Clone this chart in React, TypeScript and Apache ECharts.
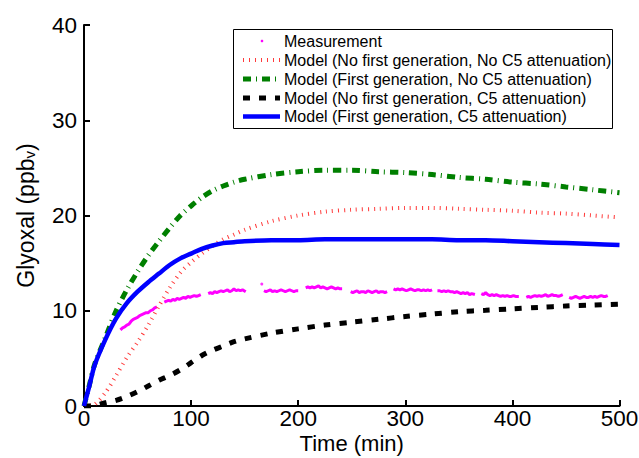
import React, { useEffect, useRef } from "react";
import * as echarts from "echarts";

const FONT = "'Liberation Sans', Arial, Helvetica, sans-serif";

const modelTime = [0, 5, 10, 20, 30, 40, 50, 60, 70, 80, 90, 100, 110, 120, 130, 140, 150, 175, 200, 225, 250, 275, 300, 325, 350, 375, 400, 425, 450, 475, 500];
const noFirstNoC5 = [0, 0.05, 0.15, 1.4, 3.2, 5.1, 6.7, 8.5, 10.5, 12.4, 14.0, 15.1, 16.0, 16.8, 17.5, 18.0, 18.5, 19.4, 20.0, 20.4, 20.6, 20.7, 20.8, 20.8, 20.7, 20.6, 20.5, 20.3, 20.2, 20.0, 19.8];
const firstNoC5 = [0, 2.2, 4.4, 7.2, 10.0, 12.2, 14.1, 15.8, 17.3, 18.7, 20.0, 21.0, 21.9, 22.6, 23.1, 23.5, 23.8, 24.3, 24.6, 24.75, 24.75, 24.6, 24.5, 24.3, 24.0, 23.8, 23.5, 23.3, 23.0, 22.7, 22.4];
const noFirstC5 = [0, 0, 0.05, 0.35, 0.6, 1.0, 1.5, 2.1, 2.7, 3.2, 3.8, 4.55, 5.3, 5.85, 6.3, 6.75, 7.05, 7.65, 8.1, 8.5, 8.8, 9.1, 9.4, 9.65, 9.9, 10.05, 10.2, 10.35, 10.5, 10.6, 10.7];
const firstC5 = [0, 2.1, 4.3, 7.0, 9.2, 10.8, 12.0, 13.0, 13.9, 14.8, 15.5, 16.0, 16.5, 16.85, 17.1, 17.2, 17.3, 17.4, 17.4, 17.5, 17.5, 17.5, 17.5, 17.5, 17.4, 17.4, 17.3, 17.2, 17.1, 17.0, 16.9];

const measSeg1 = [[34, 8.0], [36, 8.2], [38, 8.3], [40, 8.5], [42, 8.6], [44, 8.9], [46, 9.1], [48, 9.2], [50, 9.3], [52, 9.5], [54, 9.6], [56, 9.7], [58, 9.8], [60, 9.8], [62, 10.0], [64, 10.1], [66, 10.3], [68, 10.4]];
const measSeg2 = [[75, 10.9], [77, 11.0], [79, 11.1], [81, 11.0], [83, 11.2], [85, 11.1], [87, 11.3], [89, 11.2], [91, 11.3], [93, 11.4], [95, 11.3], [97, 11.5], [99, 11.4], [101, 11.5], [103, 11.6], [105, 11.5], [107, 11.6], [109, 11.7]];
const measSeg3 = [[116, 11.8], [118, 11.9], [120, 11.8], [122, 12.0], [124, 11.9], [126, 12.0], [128, 12.1], [130, 12.0], [132, 12.1], [134, 12.2], [136, 12.0], [138, 12.1], [140, 12.3], [142, 12.1], [144, 12.2], [146, 12.1], [148, 12.2], [151, 12.0]];
const measSeg4 = [[168, 12.1], [170, 12.0], [172, 12.1], [174, 12.2], [176, 12.0], [178, 12.1], [180, 12.0], [182, 12.1], [184, 12.2], [186, 12.1], [188, 12.0], [190, 12.1], [192, 12.2], [194, 12.1], [196, 12.0], [198, 12.1], [200, 12.1]];
const measSeg5 = [[207, 12.4], [209, 12.5], [211, 12.4], [213, 12.5], [215, 12.4], [217, 12.5], [219, 12.6], [221, 12.4], [223, 12.5], [225, 12.4], [227, 12.3], [229, 12.4], [231, 12.5], [233, 12.4], [235, 12.3], [237, 12.4], [239, 12.3], [241, 12.3]];
const measSeg6 = [[249, 12.0], [251, 11.9], [253, 12.0], [255, 12.1], [257, 11.9], [259, 12.0], [261, 12.0], [263, 11.9], [265, 12.1], [267, 12.0], [269, 11.9], [271, 12.0], [273, 12.1], [275, 11.9], [277, 12.0], [279, 12.0], [281, 11.9], [283, 12.0]];
const measSeg7 = [[289, 12.3], [291, 12.2], [293, 12.3], [295, 12.2], [297, 12.3], [299, 12.2], [301, 12.1], [303, 12.2], [305, 12.3], [307, 12.2], [309, 12.1], [311, 12.2], [313, 12.2], [315, 12.1], [317, 12.2], [319, 12.1], [321, 12.2], [323, 12.1], [325, 12.2]];
const measSeg8 = [[330, 12.1], [332, 12.1], [334, 12.0], [336, 12.1], [338, 12.0], [340, 12.1], [342, 12.0], [344, 12.0], [346, 11.9], [348, 12.0], [350, 11.9], [352, 11.8], [354, 11.9], [356, 11.8], [358, 11.9], [360, 11.7], [362, 11.8], [365, 11.7]];
const measSeg9 = [[371, 11.8], [373, 11.7], [375, 11.9], [377, 11.7], [379, 11.6], [381, 11.7], [383, 11.6], [385, 11.7], [387, 11.6], [389, 11.5], [391, 11.6], [393, 11.5], [395, 11.6], [397, 11.5], [399, 11.5], [401, 11.6], [403, 11.5], [406, 11.5]];
const measSeg10 = [[413, 11.4], [415, 11.5], [417, 11.4], [419, 11.5], [421, 11.6], [423, 11.5], [425, 11.6], [427, 11.5], [429, 11.6], [431, 11.7], [433, 11.5], [435, 11.6], [437, 11.7], [439, 11.6], [441, 11.6], [443, 11.5], [445, 11.6], [447, 11.7]];
const measSeg11 = [[453, 11.4], [455, 11.3], [457, 11.4], [459, 11.5], [461, 11.4], [463, 11.3], [465, 11.4], [467, 11.5], [469, 11.4], [471, 11.4], [473, 11.5], [475, 11.4], [477, 11.5], [479, 11.4], [481, 11.5], [483, 11.6], [485, 11.5], [487, 11.5], [489, 11.6]];
const measIsolated = [[166, 12.8]];

const legendLabels = [
  "Measurement",
  "Model (No first generation, No C5 attenuation)",
  "Model (First generation, No C5 attenuation)",
  "Model (No first generation, C5 attenuation)",
  "Model (First generation, C5 attenuation)",
];

const xTicks = [0, 100, 200, 300, 400, 500];
const yTicks = [0, 10, 20, 30, 40];

const COLORS = {
  meas: "#ff00ff",
  red: "#ff3b3b",
  green: "#007f00",
  black: "#000000",
  blue: "#0000ff",
};

const STYLES = [
  { color: COLORS.red, width: 4, type: [1, 5] as number[] | string },
  { color: COLORS.green, width: 5, type: [8, 5, 1, 5] as number[] | string },
  { color: COLORS.black, width: 5, type: [7, 9] as number[] | string },
  { color: COLORS.blue, width: 4.5, type: "solid" as number[] | string },
];

function zip(xs: number[], ys: number[]) {
  return xs.map((x, i) => [x, ys[i]]);
}

export default function App() {
  const ref = useRef<HTMLDivElement>(null);
  useEffect(() => {
    if (!ref.current) return;
    const chart = echarts.init(ref.current, undefined, { renderer: "svg" });

    const segs = [measSeg1, measSeg2, measSeg3, measSeg4, measSeg5, measSeg6, measSeg7, measSeg8, measSeg9, measSeg10, measSeg11];
    const measData: any[] = [];
    segs.forEach((s, i) => {
      if (i > 0) measData.push([s[0][0] - 1, null]);
      s.forEach((p) => measData.push(p));
    });

    const modelSeries = [noFirstNoC5, firstNoC5, noFirstC5, firstC5].map((vals, i) => ({
      name: legendLabels[i + 1],
      type: "line",
      data: zip(modelTime, vals),
      showSymbol: false,
      smooth: 0.3,
      z: 3 + i,
      lineStyle: { color: STYLES[i].color, width: STYLES[i].width, type: STYLES[i].type, cap: "butt" },
    }));

    const legendX = 233;
    const legendY = 29;
    const rowY = [41, 60, 79, 98, 116.5];
    const legendEls: any[] = [
      {
        type: "rect",
        shape: { x: legendX + 0.5, y: legendY + 0.5, width: 379, height: 99 },
        style: { fill: "#fff", stroke: "#000", lineWidth: 1 },
        z: 100,
      },
      {
        type: "circle",
        shape: { cx: 262, cy: rowY[0], r: 1.3 },
        style: { fill: COLORS.meas },
        z: 101,
      },
    ];
    for (let i = 0; i < 4; i++) {
      const st = STYLES[i];
      legendEls.push({
        type: "line",
        shape: { x1: 243, y1: rowY[i + 1], x2: 280, y2: rowY[i + 1] },
        style: {
          stroke: st.color,
          lineWidth: st.width,
          lineDash: Array.isArray(st.type) ? st.type : null,
        },
        z: 101,
      });
    }
    legendLabels.forEach((t, i) => {
      legendEls.push({
        type: "text",
        x: 284,
        y: rowY[i],
        style: {
          text: t,
          fontSize: 16,
          fontFamily: FONT,
          fill: "#000",
          verticalAlign: "middle",
          align: "left",
        },
        z: 101,
      });
    });

    chart.setOption({
      animation: false,
      backgroundColor: "#fff",
      grid: { left: 84, right: 19.5, top: 25, bottom: 52, containLabel: false, outerBoundsMode: "none" },
      xAxis: {
        type: "value",
        min: xTicks[0],
        max: xTicks[xTicks.length - 1],
        interval: 100,
        name: "Time (min)",
        nameLocation: "middle",
        nameGap: 25,
        nameMoveOverlap: false,
        nameTextStyle: { fontSize: 22, fontFamily: FONT, color: "#000", lineHeight: 24 },
        axisLine: { show: true, onZero: false, lineStyle: { color: "#000", width: 2 } },
        axisTick: { show: true, inside: true, length: 6, lineStyle: { color: "#000", width: 2 } },
        axisLabel: { fontSize: 22.5, fontFamily: FONT, color: "#000", margin: 1, lineHeight: 22, hideOverlap: false },
        splitLine: { show: false },
      },
      yAxis: {
        type: "value",
        min: yTicks[0],
        max: yTicks[yTicks.length - 1],
        interval: 10,
        name: "{n|Glyoxal (ppb}{s|v}{n|)}",
        nameLocation: "middle",
        nameGap: 47,
        nameMoveOverlap: false,
        nameRotate: 90,
        nameTextStyle: {
          fontFamily: FONT,
          color: "#000",
          rich: {
            n: { fontSize: 23, fontFamily: FONT, color: "#000", lineHeight: 28, verticalAlign: "bottom" },
            s: { fontSize: 15, fontFamily: FONT, color: "#000", lineHeight: 15, verticalAlign: "bottom" },
          },
        },
        axisLine: { show: true, onZero: false, lineStyle: { color: "#000", width: 2 } },
        axisTick: { show: true, inside: true, length: 6, lineStyle: { color: "#000", width: 2 } },
        axisLabel: { fontSize: 22.5, fontFamily: FONT, color: "#000", margin: 7 },
        splitLine: { show: false },
      },
      series: [
        {
          name: legendLabels[0],
          type: "line",
          data: measData,
          showSymbol: false,
          connectNulls: false,
          z: 2,
          lineStyle: { color: COLORS.meas, width: 3 },
        },
        {
          name: legendLabels[0] + " ",
          type: "scatter",
          data: measIsolated,
          symbolSize: 3,
          itemStyle: { color: COLORS.meas },
          z: 2,
        },
        ...modelSeries,
      ],
      graphic: legendEls,
    });
    return () => chart.dispose();
  }, []);
  return <div ref={ref} style={{ position: "fixed", left: 0, top: 0, width: 639, height: 458 }} />;
}
